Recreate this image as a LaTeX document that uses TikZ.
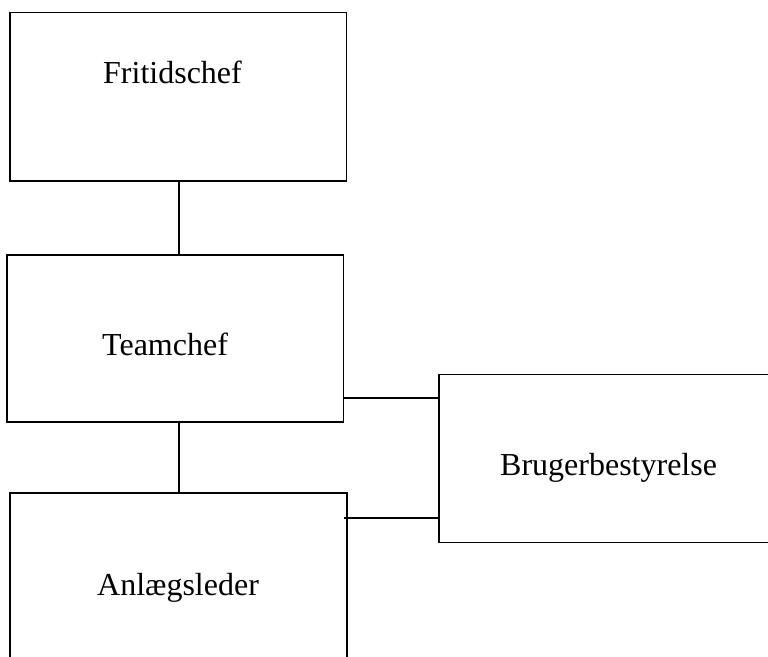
\documentclass[tikz,border=0pt]{standalone}
\usepackage{fontspec}
\setmainfont{Liberation Serif}
\begin{document}
\begin{tikzpicture}[x=1pt,y=-1pt,
  box/.style={draw=black,line width=1.6pt,rectangle,inner sep=0pt},
  lbl/.style={anchor=base west,inner sep=0pt,font=\fontsize{32}{38}\selectfont},
  conn/.style={draw=black,line width=1.6pt}]
\useasboundingbox (0,0) rectangle (768,656);
\clip (0,0) rectangle (768,656);
\node[box,minimum width=336.5pt,minimum height=168.5pt] (f) at (178.25,96.75) {};
\node[box,minimum width=336.3pt,minimum height=167.3pt] (t) at (175.15,338.35) {};
\node[box,minimum width=336.7pt,minimum height=172.3pt] (a) at (178.35,578.85) {};
\node[box,minimum width=361pt,minimum height=168pt] (b) at (619.5,458.3) {};
\node[lbl] (ft) at (103,83) {Fritidschef};
\node[lbl] (tt) at (102,355) {Teamchef};
\node[lbl] (at) at (97,595) {Anlægsleder};
\node[lbl] (bt) at (500,475) {Brugerbestyrelse};
\draw[conn] ([xshift=0.75pt]f.south) -- ([xshift=0.75pt]f.south |- t.north);
\draw[conn] ([xshift=0.75pt]f.south |- t.south) -- ([xshift=0.75pt]f.south |- a.north);
\draw[conn] ([yshift=-59.65pt]t.east) coordinate (p1) -- (p1 -| b.west);
\draw[conn] ([xshift=-3.7pt,yshift=60.85pt]a.east) coordinate (p2) -- (p2 -| b.west);
\end{tikzpicture}
\end{document}
